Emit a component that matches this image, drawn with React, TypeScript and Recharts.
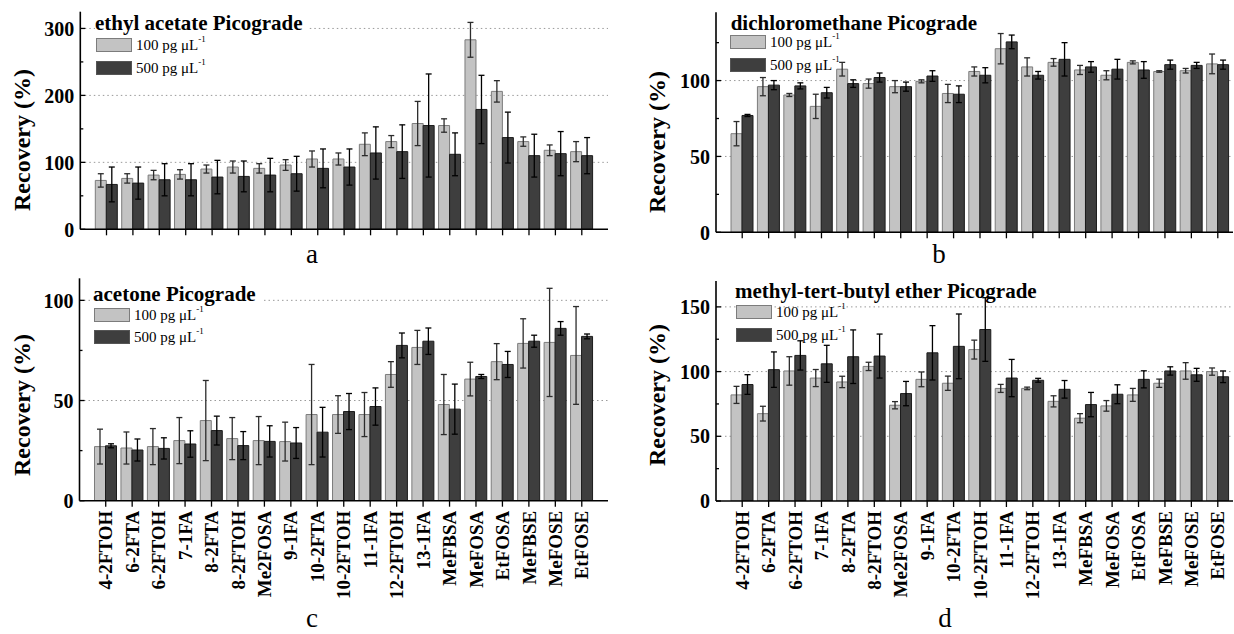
import React from "react";
import { Bar, BarChart, CartesianGrid, ErrorBar, Legend, XAxis, YAxis } from "recharts";

const compounds = [
  "4-2FTOH", "6-2FTA", "6-2FTOH", "7-1FA", "8-2FTA", "8-2FTOH", "Me2FOSA",
  "9-1FA", "10-2FTA", "10-2FTOH", "11-1FA", "12-2FTOH", "13-1FA", "MeFBSA",
  "MeFOSA", "EtFOSA", "MeFBSE", "MeFOSE", "EtFOSE",
];

// (a) ethyl acetate
const ethylAcetate100 = [73, 76, 81, 82, 90, 93, 91, 96, 105, 105, 127, 131, 158, 155, 283, 206, 131, 118, 116];
const ethylAcetate100Sd = [10, 7, 7, 7, 6, 9, 7, 8, 12, 9, 17, 9, 33, 10, 26, 16, 7, 8, 15];
const ethylAcetate500 = [67, 69, 74, 74, 78, 79, 81, 83, 91, 93, 114, 116, 155, 112, 179, 137, 110, 113, 110];
const ethylAcetate500Sd = [26, 24, 24, 24, 25, 23, 25, 26, 29, 27, 39, 40, 77, 32, 51, 38, 32, 33, 27];

// (b) dichloromethane
const dcm100 = [65, 96, 90.5, 83, 107.5, 98, 96, 99.5, 91.5, 106, 121, 109, 112, 107, 103.5, 112, 106, 106.5, 111];
const dcm100Sd = [8, 6, 1, 8, 4.5, 3, 4, 1, 6, 3, 10, 6, 2.5, 3, 3, 1, 0.5, 1.5, 6.5];
const dcm500 = [77, 97, 96.5, 92, 98, 102, 96, 103, 91, 103.5, 125.5, 103.5, 114, 109, 107.5, 107, 110.5, 110, 110.5];
const dcm500Sd = [0.7, 3, 2, 3.5, 2.5, 3, 3, 3.5, 5.5, 5, 4.5, 2.5, 11, 3.5, 6.5, 5.5, 3, 2, 3];

// (c) acetone
const acetone100 = [27, 26.3, 27, 30, 40, 31, 30, 29.5, 43, 43, 43, 63, 76.5, 48, 60.7, 69.4, 78.5, 79, 72.5];
const acetone100Sd = [8.7, 8, 9, 11.5, 20, 10.5, 12, 9.7, 25, 9.4, 11, 6.4, 8.5, 15, 8.4, 9, 12.3, 27, 24.4];
const acetone500 = [27.4, 25.3, 26.1, 28.3, 35, 27.5, 29.6, 28.8, 34.2, 44.5, 47, 77.5, 79.6, 45.7, 62, 68, 79.6, 86, 82];
const acetone500Sd = [1, 5.5, 5.3, 6.6, 7.2, 7, 7.8, 7.7, 12.4, 9, 9.3, 6.2, 6.6, 12.5, 1, 6.5, 3, 3.4, 1.2];

// (d) methyl-tert-butyl ether
const mtbe100 = [82, 67.5, 100.5, 95, 92, 104, 74, 94, 91, 117, 87, 87, 77, 64, 73.5, 82, 91, 100.5, 100];
const mtbe100Sd = [6.6, 5.7, 11, 6.6, 4.4, 3.2, 2.8, 5.7, 5.5, 7.3, 3.1, 1, 4.3, 3.5, 4.1, 5, 3.2, 6.4, 2.8];
const mtbe500 = [90, 101.5, 112.5, 106, 111.5, 112, 83, 114.5, 119.5, 132.5, 95, 93.3, 86.3, 74.5, 82.5, 94, 100.5, 97.5, 96];
const mtbe500Sd = [7.6, 13.7, 11.3, 14.3, 20.7, 17, 9.4, 21, 25, 24.6, 14.4, 1.5, 6.8, 9.4, 7.3, 6.6, 3.2, 5, 4.5];

const SERIF = '"Liberation Serif", "Times New Roman", serif';
const LIGHT = "#c3c3c3";
const LIGHT_EDGE = "#7c7c7c";
const DARK = "#3e3e3e";
const DARK_EDGE = "#1c1c1c";

function buildRows(low: number[], lowSd: number[], high: number[], highSd: number[]) {
  return compounds.map((name, i) => ({
    name,
    low: low[i],
    lowSd: lowSd[i],
    high: high[i],
    highSd: highSd[i],
  }));
}

function makeYTick(majors: number[]) {
  return (props: any) => {
    const { x, y, payload } = props;
    const v = payload.value;
    const major = majors.includes(v);
    const ax = x + 6;
    return (
      <g>
        <line x1={ax} x2={ax + (major ? 5 : 3)} y1={y} y2={y} stroke="#000" strokeWidth={1.3} />
        {major && (
          <text x={x} y={y} dy="0.36em" textAnchor="end" fontFamily={SERIF} fontWeight="bold" fontSize={20} fill="#000">
            {v}
          </text>
        )}
      </g>
    );
  };
}

function makeXTick(show: boolean) {
  return (props: any) => {
    if (!show) return <g />;
    const { x, y, payload } = props;
    return (
      <text
        x={x}
        y={y}
        dy="0.35em"
        textAnchor="end"
        transform={`rotate(-90 ${x} ${y})`}
        fontFamily={SERIF}
        fontWeight="bold"
        fontSize={19}
        fill="#000"
      >
        {payload.value}
      </text>
    );
  };
}

function SeriesKey({ payload }: any) {
  const edges = [LIGHT_EDGE, "#555"];
  return (
    <div style={{ fontFamily: SERIF, fontSize: 15, color: "#000" }}>
      {(payload || []).map((entry: any, i: number) => (
        <div key={entry.value} style={{ display: "flex", alignItems: "center", height: 14, marginBottom: 8.4 }}>
          <span
            style={{
              width: 36,
              height: 14,
              boxSizing: "border-box",
              background: entry.color,
              border: `1.5px solid ${edges[i]}`,
              marginRight: 4,
            }}
          />
          <span style={{ lineHeight: "14px", whiteSpace: "nowrap" }}>
            {entry.value}
            <sup style={{ fontSize: 9, lineHeight: 1, verticalAlign: "top", position: "relative", top: -3 }}>-1</sup>
          </span>
        </div>
      ))}
    </div>
  );
}

type Panel = {
  title: string;
  letter: string;
  rows: ReturnType<typeof buildRows>;
  yMax: number;
  majors: number[];
  minors: number[];
  left: number;
  top: number;
  height: number;
  marginTop: number;
  marginRight: number;
  yAxisWidth: number;
  xAxisHeight: number;
  padRight: number;
  showNames: boolean;
  titleLeft: number;
  titleTop: number;
  titleBg: boolean;
  legendLeft: number;
  legendTop: number;
  yTitleX: number;
  yTitleY: number;
  letterX: number;
  letterBaseline: number;
};

const panels: Panel[] = [
  {
    title: "ethyl acetate Picograde", letter: "a",
    rows: buildRows(ethylAcetate100, ethylAcetate100Sd, ethylAcetate500, ethylAcetate500Sd),
    yMax: 325, majors: [0, 100, 200, 300], minors: [50, 150, 250],
    left: 0, top: 0, height: 317, marginTop: 11.7, marginRight: 9, yAxisWidth: 80.3, xAxisHeight: 87.7,
    padRight: 13, showNames: false,
    titleLeft: 95, titleTop: 12.9, titleBg: true, legendLeft: 96, legendTop: 38.3,
    yTitleX: 30, yTitleY: 140, letterX: 312, letterBaseline: 263,
  },
  {
    title: "dichloromethane Picograde", letter: "b",
    rows: buildRows(dcm100, dcm100Sd, dcm500, dcm500Sd),
    yMax: 145, majors: [0, 50, 100], minors: [25, 75, 125],
    left: 617, top: 0, height: 317, marginTop: 12.3, marginRight: 1, yAxisWidth: 99, xAxisHeight: 84.7,
    padRight: 2, showNames: false,
    titleLeft: 113.7, titleTop: 12.9, titleBg: false, legendLeft: 113, legendTop: 35.3,
    yTitleX: 48, yTitleY: 142, letterX: 939, letterBaseline: 263,
  },
  {
    title: "acetone Picograde", letter: "c",
    rows: buildRows(acetone100, acetone100Sd, acetone500, acetone500Sd),
    yMax: 111, majors: [0, 50, 100], minors: [25, 75],
    left: 0, top: 262, height: 372, marginTop: 16.3, marginRight: 9, yAxisWidth: 79.5, xAxisHeight: 133.3,
    padRight: 13, showNames: true,
    titleLeft: 93, titleTop: 21.6, titleBg: true, legendLeft: 94, legendTop: 45.7,
    yTitleX: 30, yTitleY: 143, letterX: 312, letterBaseline: 627,
  },
  {
    title: "methyl-tert-butyl ether Picograde", letter: "d",
    rows: buildRows(mtbe100, mtbe100Sd, mtbe500, mtbe500Sd),
    yMax: 170, majors: [0, 50, 100, 150], minors: [25, 75, 125],
    left: 617, top: 262, height: 372, marginTop: 19, marginRight: 1, yAxisWidth: 99, xAxisHeight: 133,
    padRight: 2, showNames: true,
    titleLeft: 118, titleTop: 18.9, titleBg: false, legendLeft: 119, legendTop: 43.3,
    yTitleX: 48, yTitleY: 133, letterX: 945, letterBaseline: 627,
  },
];

function RecoveryPanel({ p }: { p: Panel }) {
  const ticks = [...p.majors, ...p.minors].sort((a, b) => a - b);
  return (
    <div style={{ position: "absolute", left: p.left, top: p.top, width: 617, height: p.height }}>
      <BarChart
        width={617}
        height={p.height}
        data={p.rows}
        barGap={0}
        margin={{ top: p.marginTop, right: p.marginRight, bottom: 0, left: 0 }}
      >
        <CartesianGrid
          vertical={false}
          horizontalValues={p.majors.filter((v) => v > 0)}
          stroke="#9a9a9a"
          strokeDasharray="1.5 3"
        />
        <XAxis
          dataKey="name"
          interval={0}
          height={p.xAxisHeight}
          padding={{ left: 13, right: p.padRight }}
          tickSize={6}
          tickMargin={4}
          tick={makeXTick(p.showNames)}
          tickLine={{ stroke: "#000", strokeWidth: 1.3 }}
          axisLine={{ stroke: "#000", strokeWidth: 1.6 }}
        />
        <XAxis
          xAxisId="frame"
          orientation="top"
          height={0}
          tick={false}
          tickLine={false}
          axisLine={{ stroke: "#000", strokeWidth: 1.6 }}
        />
        <YAxis
          domain={[0, p.yMax]}
          ticks={ticks}
          interval={0}
          allowDataOverflow
          width={p.yAxisWidth}
          tickSize={0}
          tickMargin={6}
          tickLine={false}
          tick={makeYTick(p.majors)}
          axisLine={{ stroke: "#000", strokeWidth: 1.6 }}
          label={() => (
            <text
              x={p.yTitleX}
              y={p.yTitleY}
              transform={`rotate(-90 ${p.yTitleX} ${p.yTitleY})`}
              textAnchor="middle"
              fontFamily={SERIF}
              fontWeight="bold"
              fontSize={24}
              fill="#000"
            >
              Recovery (%)
            </text>
          )}
        />
        <YAxis
          yAxisId="frame"
          orientation="right"
          width={0}
          tick={false}
          tickLine={false}
          axisLine={{ stroke: "#000", strokeWidth: 1.6 }}
        />
        <Legend
          layout="vertical"
          align="center"
          verticalAlign="middle"
          wrapperStyle={{ left: p.legendLeft, top: p.legendTop, width: "auto", height: "auto" }}
          content={(props: any) => <SeriesKey payload={props.payload} />}
        />
        <Bar
          dataKey="low"
          name="100 pg μL"
          fill={LIGHT}
          stroke={LIGHT_EDGE}
          strokeWidth={1}
          barSize={11}
          isAnimationActive={false}
        >
          <ErrorBar dataKey="lowSd" width={3} stroke="#2c2c2c" strokeWidth={1.3} />
        </Bar>
        <Bar
          dataKey="high"
          name="500 pg μL"
          fill={DARK}
          stroke={DARK_EDGE}
          strokeWidth={1}
          barSize={11}
          isAnimationActive={false}
        >
          <ErrorBar dataKey="highSd" width={3} stroke="#000" strokeWidth={1.3} />
        </Bar>
      </BarChart>
      <div
        style={{
          position: "absolute",
          left: p.titleLeft,
          top: p.titleTop,
          height: 20,
          lineHeight: "20px",
          fontFamily: SERIF,
          fontWeight: "bold",
          fontSize: 21,
          whiteSpace: "nowrap",
          background: p.titleBg ? "#fff" : "transparent",
          paddingRight: 6,
        }}
      >
        {p.title}
      </div>
    </div>
  );
}

export default function App() {
  return (
    <div style={{ position: "absolute", left: 0, top: 0, width: 1234, height: 634, background: "#fff", overflow: "hidden" }}>
      {panels.map((p) => (
        <RecoveryPanel key={p.letter} p={p} />
      ))}
      <svg width={1234} height={634} style={{ position: "absolute", left: 0, top: 0, pointerEvents: "none" }}>
        {panels.map((p) => (
          <text key={p.letter} x={p.letterX} y={p.letterBaseline} textAnchor="middle" fontFamily={SERIF} fontSize={27} fill="#000">
            {p.letter}
          </text>
        ))}
      </svg>
    </div>
  );
}
